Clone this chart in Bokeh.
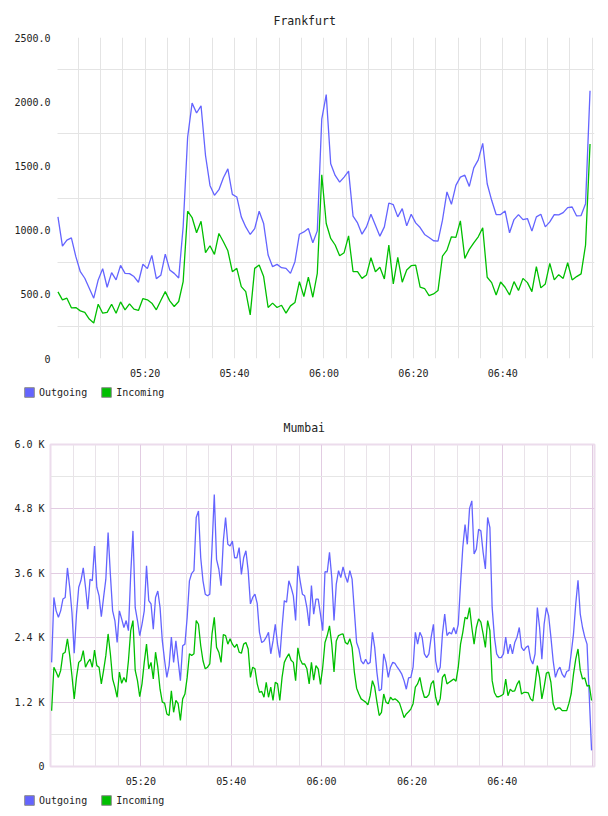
from bokeh.plotting import figure
from bokeh.layouts import column, row
from bokeh.models import FixedTicker, Legend, LegendItem, Grid
from bokeh.embed import file_html
from bokeh.resources import INLINE

# ---------------- data ----------------
fra_minutes = [0.5 + i for i in range(120)]   # minutes after 05:00
fra_out = [1103, 875, 922, 940, 793, 676, 625, 547, 470, 612,
           700, 555, 669, 612, 725, 663, 661, 638, 594, 734,
           700, 803, 622, 648, 813, 690, 663, 627, 1025, 1723,
           1989, 1912, 1968, 1581, 1348, 1271, 1315, 1408, 1477, 1278,
           1258, 1103, 1025, 966, 1012, 1147, 1051, 806, 715, 733,
           707, 702, 663, 754, 968, 986, 1012, 901, 994, 1865,
           2055, 1516, 1426, 1374, 1413, 1459, 1108, 1056, 968, 1025,
           1123, 1038, 953, 1025, 1211, 1198, 1103, 1167, 1033, 1123,
           1056, 1020, 966, 943, 917, 914, 1077, 1297, 1201, 1348,
           1413, 1428, 1340, 1485, 1547, 1676, 1361, 1232, 1121, 1121,
           1149, 979, 1082, 1121, 1082, 1090, 992, 1103, 1123, 1025,
           1064, 1121, 1119, 1136, 1175, 1180, 1110, 1113, 1206, 2085]
fra_in = [519, 457, 470, 395, 397, 371, 359, 307, 276, 423,
          353, 359, 423, 353, 441, 379, 426, 384, 374, 467,
          457, 431, 379, 452, 521, 449, 405, 444, 599, 1147,
          1098, 979, 1069, 824, 878, 811, 974, 909, 839, 676,
          702, 560, 521, 340, 702, 728, 638, 397, 431, 397,
          415, 353, 410, 436, 599, 483, 633, 477, 663, 1431,
          1051, 935, 884, 800, 824, 955, 676, 676, 624, 650,
          785, 676, 710, 620, 884, 581, 788, 594, 689, 723,
          728, 555, 545, 490, 503, 529, 798, 844, 948, 943,
          1072, 780, 850, 901, 948, 1018, 633, 591, 495, 596,
          555, 495, 599, 529, 624, 591, 521, 715, 550, 581,
          741, 612, 653, 624, 746, 612, 638, 659, 884, 1671]

mum_minutes = [0.25 + 0.5 * i for i in range(240)]   # minutes after 05:00
mum_out = [1.94, 3.15, 2.90, 2.78, 2.90, 3.12, 3.15, 3.70, 3.34, 2.87,
           2.11, 2.84, 3.34, 3.47, 3.70, 3.34, 2.93, 3.49, 3.46, 4.11,
           3.34, 3.18, 2.79, 3.15, 3.49, 4.36, 3.58, 2.90, 2.72, 2.31,
           2.90, 2.75, 2.59, 2.72, 2.53, 3.58, 4.39, 2.96, 2.72, 2.44,
           2.65, 2.90, 3.74, 3.09, 3.03, 2.56, 3.15, 3.27, 2.96, 2.34,
           1.98, 1.66, 1.88, 2.41, 1.94, 2.34, 1.97, 1.60, 2.25, 2.28,
           2.78, 3.46, 3.60, 3.65, 4.64, 4.76, 3.89, 3.46, 3.21, 3.18,
           3.21, 4.08, 5.07, 3.86, 3.68, 3.37, 4.20, 4.64, 4.14, 4.11,
           4.20, 3.89, 3.89, 4.08, 3.58, 3.89, 4.02, 3.65, 3.03, 3.15,
           3.21, 3.04, 2.50, 2.31, 2.34, 2.41, 2.50, 2.10, 2.34, 2.65,
           2.28, 2.03, 2.59, 3.09, 3.06, 3.46, 3.34, 3.18, 2.72, 3.74,
           3.46, 3.21, 3.18, 2.96, 2.62, 3.37, 2.84, 3.12, 3.12, 2.84,
           2.53,
           3.63, 3.62, 3.99, 3.52, 2.72, 3.40, 3.65, 3.52, 3.72, 3.55,
           3.43, 3.65, 3.49, 2.90, 2.31, 2.19, 1.97, 1.91, 2.00, 1.91,
           1.94, 2.50, 2.22, 1.75, 1.41, 1.44, 2.10, 1.94, 1.66, 1.85,
           1.94, 1.92, 1.85, 1.79, 1.72, 1.60, 1.44, 1.65, 1.66, 1.85,
           2.50, 2.28, 2.50, 2.41, 2.10, 2.03, 2.10, 2.41, 2.65, 1.97,
           1.75, 1.85, 2.47, 2.84, 2.44, 2.50, 2.47, 2.59, 2.47, 2.65,
           3.40, 4.08, 4.51, 4.14, 4.81, 4.95, 3.96, 4.05, 4.42, 4.39,
           3.99, 3.68, 4.64, 4.45, 2.96, 2.41, 2.10, 2.03, 2.03, 2.10,
           2.41, 2.10, 2.28, 2.10, 2.31, 2.41, 2.59, 2.22, 2.16, 2.22,
           2.25, 2.00, 1.91, 2.10, 2.96, 2.59, 2.00, 2.65, 2.96, 2.81,
           2.41, 1.97, 1.66, 1.79, 1.85, 1.72, 1.66, 1.77, 1.79, 2.11,
           2.47, 3.03, 3.47, 2.84, 2.59, 2.41, 2.28, 1.29, 0.30]
mum_in = [1.04, 1.85, 1.76, 1.66, 1.79, 2.10, 2.13, 2.38, 2.07, 1.69,
          1.26, 1.66, 1.94, 1.98, 2.16, 1.85, 1.94, 2.00, 1.85, 2.17,
          1.88, 1.85, 1.54, 1.79, 2.07, 2.47, 2.10, 1.63, 1.48, 1.29,
          1.76, 1.55, 1.66, 1.57, 1.97, 2.53, 2.72, 1.79, 1.60, 1.30,
          1.54, 1.94, 2.28, 1.82, 1.94, 1.63, 2.13, 1.85, 1.44, 1.20,
          1.18, 0.98, 0.95, 1.41, 1.01, 1.23, 1.17, 0.86, 1.26, 1.35,
          1.66, 2.10, 2.07, 2.10, 2.72, 2.65, 2.25, 1.97, 1.82, 1.85,
          1.91, 2.47, 2.78, 2.22, 2.13, 1.94, 2.46, 2.44, 2.28, 2.38,
          2.28, 2.22, 2.28, 2.13, 2.11, 2.28, 2.31, 2.19, 1.66, 1.85,
          1.82, 1.54, 1.38, 1.40, 1.29, 1.57, 1.29, 1.48, 1.23, 1.57,
          1.54, 1.23, 1.66, 1.94, 2.03, 2.10, 1.98, 1.94, 1.60, 2.21,
          2.00, 1.91, 1.91, 1.82, 1.54, 1.94, 1.61, 1.88, 1.82, 1.53,
          1.85,
          2.31, 2.44, 2.62, 2.28, 1.76, 2.34, 2.44, 2.46, 2.47, 2.31,
          2.28, 2.38, 2.22, 1.76, 1.46, 1.35, 1.26, 1.23, 1.20, 1.15,
          1.32, 1.60, 1.48, 1.20, 0.95, 1.01, 1.35, 1.20, 1.17, 1.29,
          1.24, 1.26, 1.23, 1.18, 1.05, 0.91, 0.98, 1.02, 1.07, 1.17,
          1.48, 1.54, 1.66, 1.44, 1.29, 1.29, 1.34, 1.54, 1.60, 1.29,
          1.14, 1.26, 1.66, 1.72, 1.54, 1.57, 1.60, 1.63, 1.59, 1.85,
          2.28, 2.50, 2.78, 2.75, 2.96, 2.59, 2.28, 2.59, 2.75, 2.69,
          2.47, 2.22, 2.72, 2.53, 1.60, 1.38, 1.30, 1.30, 1.32, 1.35,
          1.63, 1.32, 1.44, 1.40, 1.41, 1.53, 1.60, 1.35, 1.38, 1.38,
          1.37, 1.26, 1.22, 1.54, 1.88, 1.66, 1.26, 1.48, 1.74, 1.76,
          1.57, 1.17, 1.05, 1.09, 1.09, 1.04, 1.04, 1.04, 1.18, 1.36,
          1.72, 2.00, 2.19, 1.79, 1.63, 1.65, 1.50, 1.51, 1.23]

time_ticks = [20, 40, 60, 80, 100]
time_labels = ["05:20", "05:40", "06:00", "06:20", "06:40"]
grid_minutes = [5, 10, 15, 25, 30, 35, 45, 50, 55, 65, 70, 75, 85, 90, 95, 105, 110, 115]
major_minutes = [20, 40, 60, 80, 100, 120]

fra_yticks = [0, 500, 1000, 1500, 2000, 2500]
fra_ylabels = ["0", "500.0", "1000.0", "1500.0", "2000.0", "2500.0"]
fra_ygrid = [250, 750, 1250, 1750, 2250]

mum_yticks = [0, 1.2, 2.4, 3.6, 4.8, 6.0]
mum_ylabels = ["0", "1.2 K", "2.4 K", "3.6 K", "4.8 K", "6.0 K"]
mum_ygrid_major = [1.2, 2.4, 3.6, 4.8]
mum_ygrid_minor = [0.6, 1.8, 3.0, 4.2, 5.4]

series_names = ["Outgoing", "Incoming"]
BLUE = "#6464ff"
GREEN = "#00bf00"
FONT = "DejaVu Sans Mono"


def style_axes(p, ystandoff):
    for ax in (p.xaxis[0], p.yaxis[0]):
        ax.axis_line_color = None
        ax.major_tick_line_color = None
        ax.minor_tick_line_color = None
        ax.major_tick_out = 0
        ax.minor_tick_out = 0
        ax.major_label_text_font = FONT
        ax.major_label_text_font_size = "10px"
        ax.major_label_text_color = "#222222"
    p.xaxis[0].major_label_standoff = 9
    p.yaxis[0].major_label_standoff = ystandoff
    p.xaxis[0].ticker = FixedTicker(ticks=time_ticks)
    p.xaxis[0].major_label_overrides = dict(zip(time_ticks, time_labels))


def legend_strip(xs, ys_out, ys_in):
    f = figure(width=608, height=24, x_range=(0, 1), y_range=(0, 1),
               output_backend="svg", toolbar_location=None,
               x_axis_location=None, y_axis_location=None,
               min_border_left=0, min_border_right=0, min_border_top=0, min_border_bottom=0)
    f.grid.visible = False
    f.outline_line_color = None
    # key swatches: hidden renderers that only feed the legend
    r_out = f.quad(left=xs[:1], right=xs[:1], top=ys_out[:1], bottom=ys_out[:1],
                   fill_color=BLUE, line_color="#8a8a8a", visible=False)
    r_in = f.quad(left=xs[:1], right=xs[:1], top=ys_in[:1], bottom=ys_in[:1],
                  fill_color=GREEN, line_color="#8a8a8a", visible=False)
    leg = Legend(items=[LegendItem(label=series_names[0], renderers=[r_out]),
                        LegendItem(label=series_names[1], renderers=[r_in])],
                 orientation="horizontal", location=(23, 10),
                 padding=0, margin=0, spacing=13, label_standoff=4,
                 glyph_width=12, glyph_height=12, label_height=12, label_width=10,
                 border_line_color=None, background_fill_alpha=0,
                 inactive_fill_alpha=0,
                 label_text_font=FONT, label_text_font_size="10px",
                 label_text_color="#222222")
    f.add_layout(leg)
    return f


def set_title(p, text, offset):
    p.title.text = text
    p.title.align = "left"
    p.title.offset = offset
    p.title.text_font = FONT
    p.title.text_font_size = "11.5px"
    p.title.text_font_style = "normal"
    p.title.text_color = "#222222"
    p.title.standoff = 20


# ---------------- Frankfurt ----------------
p1 = figure(frame_width=544, frame_height=321, x_range=(-1.17, 120.5), y_range=(0, 2500),
            output_backend="svg", toolbar_location=None,
            min_border_left=50, min_border_right=14, min_border_top=37, min_border_bottom=26)
p1.outline_line_color = None
set_title(p1, "Frankfurt", 223)
style_axes(p1, 0)
p1.yaxis[0].ticker = FixedTicker(ticks=fra_yticks)
p1.yaxis[0].major_label_overrides = dict(zip(fra_yticks, fra_ylabels))
p1.xgrid[0].ticker = FixedTicker(ticks=grid_minutes + major_minutes)
p1.ygrid[0].ticker = FixedTicker(ticks=fra_ygrid)
try:
    p1.ygrid[0].cross_bounds = (fra_minutes[0] - 0.1, 120.5)
except Exception:
    pass
for g in (p1.xgrid[0], p1.ygrid[0]):
    g.grid_line_color = "#e4e4e4"
    g.grid_line_width = 1
p1.line(fra_minutes, fra_out, line_color=BLUE, line_width=1.3)
p1.line(fra_minutes, fra_in, line_color=GREEN, line_width=1.3)
leg1 = legend_strip(fra_minutes, fra_out, fra_in)

# ---------------- Mumbai ----------------
p2 = figure(frame_width=544, frame_height=322, x_range=(0, 120.4), y_range=(0, 6.0),
            output_backend="svg", toolbar_location=None,
            min_border_left=50, min_border_right=14, min_border_top=36, min_border_bottom=26)
p2.outline_line_color = "#ecdcec"
p2.outline_line_width = 2
set_title(p2, "Mumbai", 233)
style_axes(p2, 6)
p2.yaxis[0].ticker = FixedTicker(ticks=mum_yticks)
p2.yaxis[0].major_label_overrides = dict(zip(mum_yticks, mum_ylabels))
p2.add_layout(Grid(dimension=0, ticker=FixedTicker(ticks=grid_minutes),
                   grid_line_color="#e9e3e9", grid_line_width=1))
p2.add_layout(Grid(dimension=1, ticker=FixedTicker(ticks=mum_ygrid_minor),
                   grid_line_color="#e6e6e6", grid_line_width=1))
p2.xgrid[0].ticker = FixedTicker(ticks=major_minutes)
p2.ygrid[0].ticker = FixedTicker(ticks=mum_ygrid_major)
for g in (p2.xgrid[0], p2.ygrid[0]):
    g.grid_line_color = "#e2cce2"
    g.grid_line_width = 1
p2.line(mum_minutes, mum_out, line_color=BLUE, line_width=1.3)
p2.line(mum_minutes, mum_in, line_color=GREEN, line_width=1.3)
leg2 = legend_strip(mum_minutes, mum_out, mum_in)

layout = column(p1, row(leg1, spacing=0), p2, row(leg2, spacing=0), spacing=0)
open("out.html", "w").write(file_html(layout, INLINE))
